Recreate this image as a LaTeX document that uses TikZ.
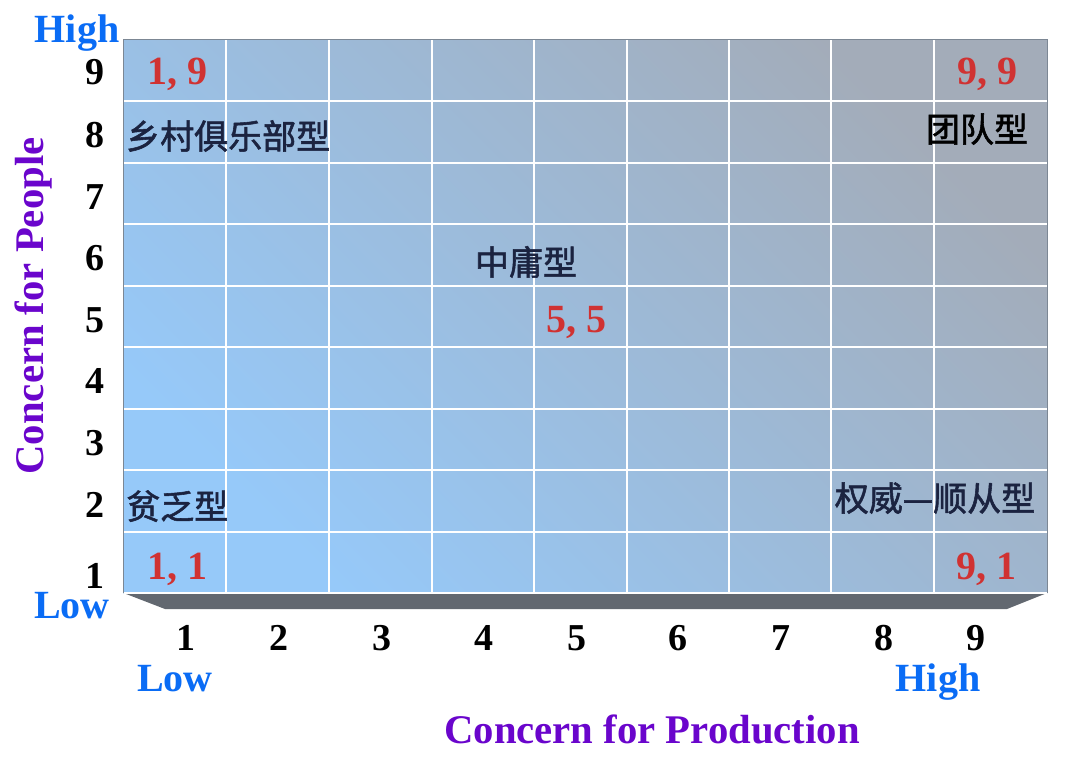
\documentclass[tikz,border=0pt]{standalone}
\usepackage{fontspec}
\setmainfont{Liberation Serif}
\newfontfamily\cjk[FakeBold=1.6]{Noto Sans CJK SC}
\definecolor{axblue}{HTML}{0A6CF5}
\definecolor{axpurple}{HTML}{6A05CC}
\definecolor{pairred}{HTML}{D03232}
\definecolor{cnnavy}{HTML}{1B2340}
\definecolor{basegray}{HTML}{626870}
\definecolor{edgegray}{HTML}{7C8794}
\definecolor{gridlow}{HTML}{96C9F9}
\definecolor{gridhigh}{HTML}{A3ACB9}
\begin{document}
\begin{tikzpicture}[x=1pt,y=-1pt,
  txt/.style={font=\fontsize{40}{40}\selectfont\bfseries, inner sep=0pt, anchor=base},
  axlabel/.style={txt, text=axblue},
  axtitle/.style={font=\fontsize{40.7}{41}\selectfont\bfseries, inner sep=0pt, anchor=base, text=axpurple},
  scalenum/.style={font=\fontsize{38}{38}\selectfont\bfseries, inner sep=0pt, anchor=base, text=black},
  pairnum/.style={txt, text=pairred},
  cnlabel/.style={font=\fontsize{34}{34}\selectfont\cjk, inner sep=0pt, anchor=base, text=cnnavy},
  gridline/.style={white, line width=2.2pt}]
\useasboundingbox (0,0) rectangle (1079,757);
% base slab
\fill[basegray] (123.5,593) -- (1047,593) -- (1007,609) -- (165,609) -- cycle;
% grid background
\shade[bottom color=gridlow, top color=gridhigh, shading angle=-45] (123.5,40) rectangle (1047,593);
\draw[edgegray, line width=1pt] (123.5,593) -- (123.5,40) -- (1047,40) -- (1047,593);
% grid lines
\foreach \gx in {226,329,432,534,627,729,831,934}
  \draw[gridline] (\gx,40.5) -- (\gx,593);
\foreach \gy in {101,163,224,286,347,409,470,532,593}
  \draw[gridline] (124,\gy) -- (1046.5,\gy);
% axis end labels
\node[axlabel] (hiL) at (77,43) {High};
\node[axlabel] (loL) at (72,618) {Low};
\node[axlabel] (loB) at (175,691) {Low};
\node[axlabel] (hiB) at (938,691) {High};
% axis titles
\node[axtitle, rotate=90] (tPeople) at (43,306) {Concern for People};
\node[axtitle] (tProd) at (652,743) {Concern for Production};
% left scale
\node[scalenum] (l9) at (95,85) {9};
\node[scalenum] (l8) at (95,147) {8};
\node[scalenum] (l7) at (95,209) {7};
\node[scalenum] (l6) at (95,270) {6};
\node[scalenum] (l5) at (95,332) {5};
\node[scalenum] (l4) at (95,393) {4};
\node[scalenum] (l3) at (95,455) {3};
\node[scalenum] (l2) at (95,517) {2};
\node[scalenum] (l1) at (95,588) {1};
% bottom scale
\node[scalenum] (b1) at (186,650) {1};
\node[scalenum] (b2) at (279,650) {2};
\node[scalenum] (b3) at (382,650) {3};
\node[scalenum] (b4) at (484,650) {4};
\node[scalenum] (b5) at (577,650) {5};
\node[scalenum] (b6) at (678,650) {6};
\node[scalenum] (b7) at (781,650) {7};
\node[scalenum] (b8) at (884,650) {8};
\node[scalenum] (b9) at (976,650) {9};
% coordinate pairs
\node[pairnum] (p19) at (177,85) {1, 9};
\node[pairnum] (p99) at (987,85) {9, 9};
\node[pairnum] (p55) at (576,332) {5, 5};
\node[pairnum] (p11) at (177,579) {1, 1};
\node[pairnum] (p91) at (986,579) {9, 1};
% style names
\node[cnlabel, anchor=base west] (country) at (126,149) {乡村俱乐部型};
\node[cnlabel, text=black] (team) at (977,142) {团队型};
\node[cnlabel] (middle) at (526,275) {中庸型};
\node[cnlabel, anchor=base west] (poor) at (126,519) {贫乏型};
\node[cnlabel] (authority) at (935,511) {权威—顺从型};
\end{tikzpicture}
\end{document}
